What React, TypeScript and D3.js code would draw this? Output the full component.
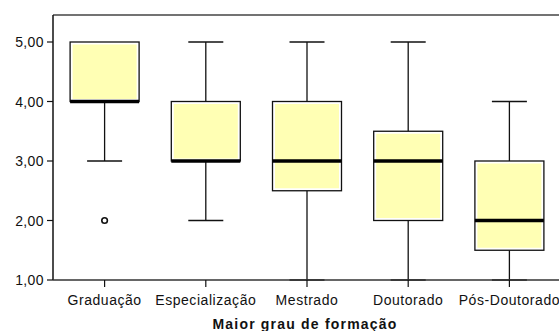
import React from "react";
import * as d3 from "d3";

// Five-number summaries per education level
const categories = ["Graduação", "Especialização", "Mestrado", "Doutorado", "Pós-Doutorado"];
const whiskerLow = [3, 2, 1, 1, 1];
const q1 = [4, 3, 2.5, 2, 1.5];
const median = [4, 3, 3, 3, 2];
const q3 = [5, 4, 4, 3.5, 3];
const whiskerHigh = [5, 5, 5, 5, 4];
const outliers: [number, number][] = [[0, 2]];
const yTicks = [1, 2, 3, 4, 5];
const xTitle = "Maior grau de formação";

const W = 559;
const H = 331;
const left = 53;
const top = 15;
const bottom = 280;
const boxW = 69;
const capW = 35;
const fill = "#FFFFB4";
const font = "'Liberation Sans', Arial, sans-serif";

export default function App() {
  const x = d3.scaleBand<string>().domain(categories).range([54, 560]);
  const y = d3.scaleLinear().domain([1, 5]).range([bottom, 42]);
  const cx = (c: string) => (x(c) as number) + x.bandwidth() / 2;
  const fmt = (v: number) => d3.format(".2f")(v).replace(".", ",");

  return (
    <svg
      width={W}
      height={H}
      style={{ position: "absolute", left: 0, top: 0, background: "#fff" }}
    >
      {/* frame */}
      <line x1={left} x2={W} y1={top} y2={top} stroke="#444" strokeWidth={1.5} />
      <line x1={left} x2={left} y1={top} y2={bottom} stroke="#111" strokeWidth={1.5} />

      {/* boxes */}
      {categories.map((c, i) => {
        const m = cx(c);
        const yTop = y(q3[i]);
        const yBot = y(q1[i]);
        return (
          <g key={c}>
            {whiskerHigh[i] > q3[i] && (
              <>
                <line x1={m} x2={m} y1={y(whiskerHigh[i])} y2={yTop} stroke="#111" strokeWidth={1.3} />
                <line x1={m - capW / 2} x2={m + capW / 2} y1={y(whiskerHigh[i])} y2={y(whiskerHigh[i])} stroke="#111" strokeWidth={1.3} />
              </>
            )}
            {whiskerLow[i] < q1[i] && (
              <>
                <line x1={m} x2={m} y1={yBot} y2={y(whiskerLow[i])} stroke="#111" strokeWidth={1.3} />
                <line x1={m - capW / 2} x2={m + capW / 2} y1={y(whiskerLow[i])} y2={y(whiskerLow[i])} stroke="#111" strokeWidth={1.3} />
              </>
            )}
            <rect x={m - boxW / 2} y={yTop} width={boxW} height={yBot - yTop} fill="#fff" stroke="#111" strokeWidth={1.3} />
            <rect x={m - boxW / 2 + 2.5} y={yTop + 2.5} width={boxW - 5} height={yBot - yTop - 5} fill={fill} />
            <line x1={m - boxW / 2} x2={m + boxW / 2} y1={y(median[i])} y2={y(median[i])} stroke="#000" strokeWidth={3.5} />
          </g>
        );
      })}

      <line x1={left} x2={W} y1={bottom} y2={bottom} stroke="#333" strokeWidth={1.5} />

      {/* y axis */}
      {yTicks.map((t) => (
        <g key={t}>
          <line x1={left - 6} x2={left} y1={y(t)} y2={y(t)} stroke="#111" strokeWidth={1.2} />
          <text
            x={44}
            y={y(t)}
            dy="0.36em"
            textAnchor="end"
            fontFamily={font}
            fontSize={14}
            letterSpacing={0.4}
            fill="#111"
          >
            {fmt(t)}
          </text>
        </g>
      ))}

      {/* x axis */}
      {categories.map((c) => (
        <g key={c}>
          <line x1={cx(c)} x2={cx(c)} y1={bottom} y2={bottom + 7} stroke="#111" strokeWidth={1.2} />
          <text
            x={cx(c)}
            y={305}
            textAnchor="middle"
            fontFamily={font}
            fontSize={14}
            letterSpacing={0.55}
            fill="#111"
          >
            {c}
          </text>
        </g>
      ))}
      <text
        x={305}
        y={329}
        textAnchor="middle"
        fontFamily={font}
        fontSize={14}
        fontWeight="bold"
        letterSpacing={1.2}
        fill="#111"
      >
        {xTitle}
      </text>

      {/* outliers */}
      {outliers.map(([ci, v], k) => (
        <circle key={k} cx={cx(categories[ci])} cy={y(v)} r={2.8} fill="#fff" stroke="#111" strokeWidth={1.6} />
      ))}
    </svg>
  );
}
